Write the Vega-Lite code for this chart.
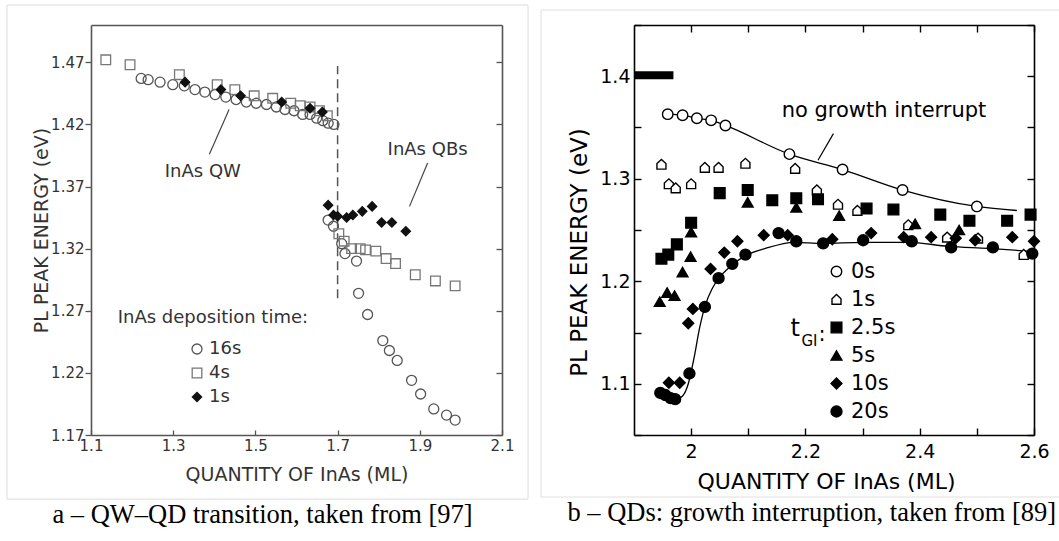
{
  "$schema": "https://vega.github.io/schema/vega-lite/v6.json",
  "background": "white",
  "padding": {"left": 6, "top": 4, "right": 0, "bottom": 0},
  "spacing": 11,
  "resolve": {
    "scale": {"x": "independent", "y": "independent", "shape": "independent", "fill": "independent", "stroke": "independent", "size": "independent"},
    "legend": {"shape": "independent", "fill": "independent", "stroke": "independent", "size": "independent"}
  },
  "config": {
    "view": {"stroke": null},
    "font": "DejaVu Sans",
    "axis": {"grid": false, "labelFlush": false, "labelOverlap": false, "labelBound": false, "domainColor": "#000", "tickColor": "#000", "labelColor": "#000", "titleColor": "#000", "titleFontWeight": "normal", "labelFont": "DejaVu Sans", "titleFont": "DejaVu Sans"}
  },
  "datasets": {
    "a": [
      {"x": 1.222, "y": 1.457, "s": "16s"}, {"x": 1.239, "y": 1.456, "s": "16s"}, {"x": 1.268, "y": 1.454, "s": "16s"}, {"x": 1.299, "y": 1.452, "s": "16s"}, {"x": 1.327, "y": 1.451, "s": "16s"}, {"x": 1.353, "y": 1.448, "s": "16s"}, {"x": 1.377, "y": 1.446, "s": "16s"}, {"x": 1.402, "y": 1.444, "s": "16s"}, {"x": 1.428, "y": 1.442, "s": "16s"}, {"x": 1.453, "y": 1.44, "s": "16s"}, {"x": 1.478, "y": 1.438, "s": "16s"}, {"x": 1.502, "y": 1.437, "s": "16s"}, {"x": 1.527, "y": 1.436, "s": "16s"}, {"x": 1.551, "y": 1.434, "s": "16s"}, {"x": 1.572, "y": 1.432, "s": "16s"}, {"x": 1.594, "y": 1.431, "s": "16s"}, {"x": 1.615, "y": 1.428, "s": "16s"}, {"x": 1.633, "y": 1.428, "s": "16s"}, {"x": 1.649, "y": 1.425, "s": "16s"}, {"x": 1.664, "y": 1.423, "s": "16s"}, {"x": 1.677, "y": 1.421, "s": "16s"}, {"x": 1.691, "y": 1.42, "s": "16s"},
      {"x": 1.677, "y": 1.343, "s": "16s"}, {"x": 1.69, "y": 1.338, "s": "16s"}, {"x": 1.71, "y": 1.324, "s": "16s"}, {"x": 1.718, "y": 1.316, "s": "16s"}, {"x": 1.746, "y": 1.31, "s": "16s"}, {"x": 1.751, "y": 1.284, "s": "16s"}, {"x": 1.773, "y": 1.267, "s": "16s"}, {"x": 1.81, "y": 1.246, "s": "16s"}, {"x": 1.826, "y": 1.238, "s": "16s"}, {"x": 1.845, "y": 1.23, "s": "16s"}, {"x": 1.88, "y": 1.214, "s": "16s"}, {"x": 1.902, "y": 1.203, "s": "16s"}, {"x": 1.934, "y": 1.191, "s": "16s"}, {"x": 1.965, "y": 1.186, "s": "16s"}, {"x": 1.986, "y": 1.182, "s": "16s"},
      {"x": 1.136, "y": 1.472, "s": "4s"}, {"x": 1.195, "y": 1.468, "s": "4s"}, {"x": 1.315, "y": 1.46, "s": "4s"}, {"x": 1.407, "y": 1.452, "s": "4s"}, {"x": 1.45, "y": 1.448, "s": "4s"}, {"x": 1.497, "y": 1.443, "s": "4s"}, {"x": 1.542, "y": 1.441, "s": "4s"}, {"x": 1.586, "y": 1.437, "s": "4s"}, {"x": 1.609, "y": 1.435, "s": "4s"}, {"x": 1.633, "y": 1.434, "s": "4s"}, {"x": 1.656, "y": 1.431, "s": "4s"}, {"x": 1.675, "y": 1.427, "s": "4s"},
      {"x": 1.703, "y": 1.332, "s": "4s"}, {"x": 1.716, "y": 1.326, "s": "4s"}, {"x": 1.734, "y": 1.32, "s": "4s"}, {"x": 1.755, "y": 1.32, "s": "4s"}, {"x": 1.768, "y": 1.319, "s": "4s"}, {"x": 1.793, "y": 1.318, "s": "4s"}, {"x": 1.818, "y": 1.312, "s": "4s"}, {"x": 1.841, "y": 1.308, "s": "4s"}, {"x": 1.889, "y": 1.299, "s": "4s"}, {"x": 1.938, "y": 1.294, "s": "4s"}, {"x": 1.986, "y": 1.29, "s": "4s"},
      {"x": 1.329, "y": 1.454, "s": "1s"}, {"x": 1.416, "y": 1.448, "s": "1s"}, {"x": 1.464, "y": 1.443, "s": "1s"}, {"x": 1.564, "y": 1.438, "s": "1s"}, {"x": 1.633, "y": 1.433, "s": "1s"}, {"x": 1.663, "y": 1.43, "s": "1s"},
      {"x": 1.677, "y": 1.355, "s": "1s"}, {"x": 1.69, "y": 1.347, "s": "1s"}, {"x": 1.7, "y": 1.346, "s": "1s"}, {"x": 1.722, "y": 1.345, "s": "1s"}, {"x": 1.737, "y": 1.347, "s": "1s"}, {"x": 1.76, "y": 1.35, "s": "1s"}, {"x": 1.784, "y": 1.354, "s": "1s"}, {"x": 1.807, "y": 1.341, "s": "1s"}, {"x": 1.832, "y": 1.341, "s": "1s"}, {"x": 1.866, "y": 1.334, "s": "1s"}
    ],
    "b": [
      {"x": 1.959, "y": 1.363, "s": "0s"}, {"x": 1.985, "y": 1.362, "s": "0s"}, {"x": 2.01, "y": 1.359, "s": "0s"}, {"x": 2.035, "y": 1.357, "s": "0s"}, {"x": 2.06, "y": 1.352, "s": "0s"}, {"x": 2.172, "y": 1.324, "s": "0s"}, {"x": 2.265, "y": 1.309, "s": "0s"}, {"x": 2.37, "y": 1.289, "s": "0s"}, {"x": 2.5, "y": 1.273, "s": "0s"},
      {"x": 1.948, "y": 1.314, "s": "1s"}, {"x": 1.961, "y": 1.295, "s": "1s"}, {"x": 1.973, "y": 1.291, "s": "1s"}, {"x": 2.0, "y": 1.295, "s": "1s"}, {"x": 2.024, "y": 1.311, "s": "1s"}, {"x": 2.048, "y": 1.311, "s": "1s"}, {"x": 2.095, "y": 1.315, "s": "1s"}, {"x": 2.182, "y": 1.31, "s": "1s"}, {"x": 2.22, "y": 1.289, "s": "1s"}, {"x": 2.257, "y": 1.275, "s": "1s"}, {"x": 2.291, "y": 1.269, "s": "1s"}, {"x": 2.38, "y": 1.255, "s": "1s"}, {"x": 2.448, "y": 1.243, "s": "1s"}, {"x": 2.502, "y": 1.242, "s": "1s"}, {"x": 2.582, "y": 1.226, "s": "1s"},
      {"x": 1.948, "y": 1.222, "s": "2.5s"}, {"x": 1.96, "y": 1.226, "s": "2.5s"}, {"x": 1.975, "y": 1.236, "s": "2.5s"}, {"x": 2.0, "y": 1.257, "s": "2.5s"}, {"x": 2.05, "y": 1.286, "s": "2.5s"}, {"x": 2.099, "y": 1.289, "s": "2.5s"}, {"x": 2.142, "y": 1.279, "s": "2.5s"}, {"x": 2.184, "y": 1.281, "s": "2.5s"}, {"x": 2.222, "y": 1.28, "s": "2.5s"}, {"x": 2.307, "y": 1.271, "s": "2.5s"}, {"x": 2.354, "y": 1.27, "s": "2.5s"}, {"x": 2.436, "y": 1.265, "s": "2.5s"}, {"x": 2.487, "y": 1.259, "s": "2.5s"}, {"x": 2.553, "y": 1.259, "s": "2.5s"}, {"x": 2.594, "y": 1.265, "s": "2.5s"},
      {"x": 1.945, "y": 1.18, "s": "5s"}, {"x": 1.958, "y": 1.189, "s": "5s"}, {"x": 1.971, "y": 1.186, "s": "5s"}, {"x": 1.985, "y": 1.209, "s": "5s"}, {"x": 1.999, "y": 1.224, "s": "5s"}, {"x": 2.0, "y": 1.248, "s": "5s"}, {"x": 2.099, "y": 1.277, "s": "5s"}, {"x": 2.184, "y": 1.272, "s": "5s"}, {"x": 2.259, "y": 1.264, "s": "5s"}, {"x": 2.392, "y": 1.256, "s": "5s"}, {"x": 2.469, "y": 1.25, "s": "5s"},
      {"x": 1.961, "y": 1.101, "s": "10s"}, {"x": 1.98, "y": 1.101, "s": "10s"}, {"x": 1.995, "y": 1.159, "s": "10s"}, {"x": 2.003, "y": 1.173, "s": "10s"}, {"x": 2.034, "y": 1.212, "s": "10s"}, {"x": 2.058, "y": 1.228, "s": "10s"}, {"x": 2.081, "y": 1.239, "s": "10s"}, {"x": 2.127, "y": 1.245, "s": "10s"}, {"x": 2.169, "y": 1.245, "s": "10s"}, {"x": 2.247, "y": 1.241, "s": "10s"}, {"x": 2.315, "y": 1.247, "s": "10s"}, {"x": 2.372, "y": 1.243, "s": "10s"}, {"x": 2.42, "y": 1.243, "s": "10s"}, {"x": 2.463, "y": 1.242, "s": "10s"}, {"x": 2.497, "y": 1.24, "s": "10s"}, {"x": 2.562, "y": 1.243, "s": "10s"}, {"x": 2.6, "y": 1.239, "s": "10s"},
      {"x": 1.946, "y": 1.091, "s": "20s"}, {"x": 1.955, "y": 1.089, "s": "20s"}, {"x": 1.964, "y": 1.086, "s": "20s"}, {"x": 1.972, "y": 1.085, "s": "20s"}, {"x": 1.997, "y": 1.11, "s": "20s"}, {"x": 2.024, "y": 1.175, "s": "20s"}, {"x": 2.048, "y": 1.203, "s": "20s"}, {"x": 2.072, "y": 1.217, "s": "20s"}, {"x": 2.095, "y": 1.226, "s": "20s"}, {"x": 2.153, "y": 1.247, "s": "20s"}, {"x": 2.184, "y": 1.239, "s": "20s"}, {"x": 2.231, "y": 1.237, "s": "20s"}, {"x": 2.301, "y": 1.24, "s": "20s"}, {"x": 2.386, "y": 1.239, "s": "20s"}, {"x": 2.455, "y": 1.233, "s": "20s"}, {"x": 2.528, "y": 1.233, "s": "20s"}, {"x": 2.597, "y": 1.227, "s": "20s"}
    ],
    "bfit": [
      {"x": 1.959, "y": 1.363, "c": "0s"}, {"x": 1.985, "y": 1.362, "c": "0s"}, {"x": 2.01, "y": 1.359, "c": "0s"}, {"x": 2.035, "y": 1.357, "c": "0s"}, {"x": 2.06, "y": 1.352, "c": "0s"}, {"x": 2.172, "y": 1.324, "c": "0s"}, {"x": 2.265, "y": 1.309, "c": "0s"}, {"x": 2.37, "y": 1.289, "c": "0s"}, {"x": 2.5, "y": 1.273, "c": "0s"}, {"x": 2.57, "y": 1.269, "c": "0s"},
      {"x": 1.972, "y": 1.084, "c": "20s"}, {"x": 1.985, "y": 1.088, "c": "20s"}, {"x": 1.995, "y": 1.1, "c": "20s"}, {"x": 2.005, "y": 1.125, "c": "20s"}, {"x": 2.015, "y": 1.155, "c": "20s"}, {"x": 2.025, "y": 1.177, "c": "20s"}, {"x": 2.037, "y": 1.193, "c": "20s"}, {"x": 2.05, "y": 1.204, "c": "20s"}, {"x": 2.07, "y": 1.215, "c": "20s"}, {"x": 2.095, "y": 1.225, "c": "20s"}, {"x": 2.13, "y": 1.232, "c": "20s"}, {"x": 2.18, "y": 1.238, "c": "20s"}, {"x": 2.23, "y": 1.237, "c": "20s"}, {"x": 2.3, "y": 1.238, "c": "20s"}, {"x": 2.38, "y": 1.238, "c": "20s"}, {"x": 2.45, "y": 1.234, "c": "20s"}, {"x": 2.52, "y": 1.232, "c": "20s"}, {"x": 2.6, "y": 1.229, "c": "20s"}
    ]
  },
  "hconcat": [
    {
      "width": 411,
      "height": 410,
      "title": {"text": "a – QW–QD transition, taken from [97]", "orient": "bottom", "anchor": "middle", "frame": "bounds", "dx": -5, "offset": 2, "font": "Liberation Serif", "fontSize": 26.5, "fontWeight": "normal", "color": "#000"},
      "resolve": {"axis": {"x": "independent", "y": "independent"}},
      "layer": [
        {
          "data": {"values": [{}]},
          "mark": {"type": "rect", "fill": null, "stroke": "#dcdcdc", "strokeWidth": 1},
          "encoding": {
            "x": {"datum": 0.8956, "type": "quantitative", "scale": {"domain": [1.1, 2.1], "nice": false, "zero": false}, "axis": null},
            "x2": {"datum": 2.1633},
            "y": {"datum": 1.5161, "type": "quantitative", "scale": {"domain": [1.17, 1.5], "nice": false, "zero": false}, "axis": null},
            "y2": {"datum": 1.1184}
          }
        },
        {
          "data": {"values": [{}]},
          "mark": {"type": "rule", "strokeDash": [9, 5], "stroke": "#555", "strokeWidth": 1.5},
          "encoding": {
            "x": {"datum": 1.7, "type": "quantitative", "axis": {"orient": "top", "ticks": false, "labels": false, "title": null, "domainColor": "#555", "domainWidth": 1.6}},
            "y": {"datum": 1.28, "type": "quantitative", "axis": {"orient": "right", "values": [1.17, 1.22, 1.27, 1.32, 1.37, 1.42, 1.47], "tickSize": -6, "labels": false, "title": null, "domainColor": "#555", "domainWidth": 1.6, "tickColor": "#555", "tickWidth": 1.3}},
            "y2": {"datum": 1.467}
          }
        },
        {
          "data": {"values": [{}]},
          "mark": {"type": "rule", "stroke": "#444", "strokeWidth": 1.2},
          "encoding": {
            "x": {"datum": 1.436, "type": "quantitative", "axis": null},
            "y": {"datum": 1.432, "type": "quantitative", "axis": null},
            "x2": {"datum": 1.388},
            "y2": {"datum": 1.396}
          }
        },
        {
          "data": {"values": [{}]},
          "mark": {"type": "rule", "stroke": "#444", "strokeWidth": 1.2},
          "encoding": {
            "x": {"datum": 1.919, "type": "quantitative", "axis": null},
            "y": {"datum": 1.389, "type": "quantitative", "axis": null},
            "x2": {"datum": 1.875},
            "y2": {"datum": 1.354}
          }
        },
        {
          "data": {"values": [{}]},
          "mark": {"type": "text", "text": "InAs QW", "font": "DejaVu Sans", "fontSize": 18, "color": "#333", "align": "center", "baseline": "middle"},
          "encoding": {
            "x": {"datum": 1.372, "type": "quantitative", "axis": null},
            "y": {"datum": 1.382, "type": "quantitative", "axis": null}
          }
        },
        {
          "data": {"values": [{}]},
          "mark": {"type": "text", "text": "InAs QBs", "font": "DejaVu Sans", "fontSize": 18, "color": "#333", "align": "center", "baseline": "middle"},
          "encoding": {
            "x": {"datum": 1.919, "type": "quantitative", "axis": null},
            "y": {"datum": 1.399, "type": "quantitative", "axis": null}
          }
        },
        {
          "data": {"values": [{}]},
          "mark": {"type": "text", "text": "InAs deposition time:", "font": "DejaVu Sans", "fontSize": 18, "color": "#333", "align": "left", "baseline": "middle"},
          "encoding": {
            "x": {"datum": 1.165, "type": "quantitative", "axis": null},
            "y": {"datum": 1.264, "type": "quantitative", "axis": null}
          }
        },
        {
          "data": {"name": "a"},
          "mark": {"type": "point", "opacity": 1, "strokeWidth": 1.3},
          "encoding": {
            "x": {"field": "x", "type": "quantitative", "scale": {"domain": [1.1, 2.1], "nice": false, "zero": false},
              "axis": {"orient": "bottom", "values": [1.1, 1.3, 1.5, 1.7, 1.9, 2.1], "format": ".1f", "tickSize": -5, "labelPadding": 8, "labelFontSize": 15, "title": "QUANTITY OF InAs (ML)", "titleFontSize": 19, "titlePadding": 12, "domainColor": "#555", "domainWidth": 1.6, "tickColor": "#555", "tickWidth": 1.3, "labelColor": "#333", "titleColor": "#333"}},
            "y": {"field": "y", "type": "quantitative", "scale": {"domain": [1.17, 1.5], "nice": false, "zero": false},
              "axis": {"orient": "left", "values": [1.17, 1.22, 1.27, 1.32, 1.37, 1.42, 1.47], "format": ".2f", "tickSize": 6, "labelPadding": 1, "labelFontSize": 15, "title": "PL PEAK ENERGY (eV)", "titleFontSize": 19, "titlePadding": -1, "domainColor": "#555", "domainWidth": 1.6, "tickColor": "#555", "tickWidth": 1.3, "labelColor": "#333", "titleColor": "#333"}},
            "shape": {"field": "s", "type": "nominal", "scale": {"domain": ["16s", "4s", "1s"], "range": ["circle", "square", "diamond"]},
              "legend": {"orient": "none", "legendX": 97, "legendY": 315, "title": null, "labelFont": "DejaVu Sans", "labelFontSize": 18, "labelColor": "#333", "rowPadding": 6, "labelOffset": 3, "symbolStrokeWidth": 1.3}},
            "stroke": {"field": "s", "type": "nominal", "scale": {"domain": ["16s", "4s", "1s"], "range": ["#555", "#777", "#111"]},
              "legend": {"orient": "none", "legendX": 97, "legendY": 315, "title": null, "labelFont": "DejaVu Sans", "labelFontSize": 18, "labelColor": "#333", "rowPadding": 6, "labelOffset": 3, "symbolStrokeWidth": 1.3}},
            "fill": {"field": "s", "type": "nominal", "scale": {"domain": ["16s", "4s", "1s"], "range": ["transparent", "transparent", "#111"]},
              "legend": {"orient": "none", "legendX": 97, "legendY": 315, "title": null, "labelFont": "DejaVu Sans", "labelFontSize": 18, "labelColor": "#333", "rowPadding": 6, "labelOffset": 3, "symbolStrokeWidth": 1.3}},
            "size": {"field": "s", "type": "nominal", "scale": {"domain": ["16s", "4s", "1s"], "range": [100, 85, 70]},
              "legend": {"orient": "none", "legendX": 97, "legendY": 315, "title": null, "labelFont": "DejaVu Sans", "labelFontSize": 18, "labelColor": "#333", "rowPadding": 6, "labelOffset": 3, "symbolStrokeWidth": 1.3}}
          }
        }
      ]
    },
    {
      "width": 400,
      "height": 410,
      "title": {"text": "b – QDs: growth interruption, taken from [89]", "orient": "bottom", "anchor": "start", "frame": "bounds", "dx": 27, "offset": 2, "font": "Liberation Serif", "fontSize": 26.5, "fontWeight": "normal", "color": "#000"},
      "resolve": {"axis": {"x": "independent", "y": "independent"}},
      "layer": [
        {
          "data": {"values": [{}]},
          "mark": {"type": "rule", "stroke": "#e0e0e0", "strokeWidth": 1},
          "encoding": {
            "x": {"datum": 1.7372, "type": "quantitative", "scale": {"domain": [1.9, 2.6], "nice": false, "zero": false}, "axis": null},
            "y": {"datum": 0.9895, "type": "quantitative", "scale": {"domain": [1.05, 1.45], "nice": false, "zero": false}, "axis": null},
            "y2": {"datum": 1.4646}
          }
        },
        {
          "data": {"values": [{}]},
          "mark": {"type": "rule", "stroke": "#e0e0e0", "strokeWidth": 1},
          "encoding": {
            "x": {"datum": 1.7372, "type": "quantitative", "axis": null},
            "x2": {"datum": 2.6455},
            "y": {"datum": 1.4646, "type": "quantitative", "axis": null}
          }
        },
        {
          "data": {"values": [{}]},
          "mark": {"type": "rule", "stroke": "#e0e0e0", "strokeWidth": 1},
          "encoding": {
            "x": {"datum": 1.7372, "type": "quantitative", "axis": null},
            "x2": {"datum": 2.6455},
            "y": {"datum": 0.9895, "type": "quantitative", "axis": null}
          }
        },
        {
          "data": {"values": [{}]},
          "mark": {"type": "rule", "stroke": "#000", "strokeWidth": 8, "strokeCap": "butt"},
          "encoding": {
            "x": {"datum": 1.9, "type": "quantitative", "axis": null},
            "x2": {"datum": 1.969},
            "y": {"datum": 1.401, "type": "quantitative", "axis": null}
          }
        },
        {
          "data": {"values": [{}]},
          "mark": {"type": "rule", "stroke": "#000", "strokeWidth": 1.2},
          "encoding": {
            "x": {"datum": 2.249, "type": "quantitative", "axis": null},
            "y": {"datum": 1.344, "type": "quantitative", "axis": null},
            "x2": {"datum": 2.222},
            "y2": {"datum": 1.318}
          }
        },
        {
          "data": {"name": "bfit"},
          "mark": {"type": "line", "stroke": "#000", "strokeWidth": 1.3, "interpolate": "monotone"},
          "encoding": {
            "x": {"field": "x", "type": "quantitative", "axis": {"orient": "top", "values": [2, 2.1, 2.2, 2.3, 2.4, 2.5, 2.6], "tickSize": -7, "tickWidth": 1.4, "domainWidth": 1.6, "labels": false, "title": null}},
            "y": {"field": "y", "type": "quantitative", "axis": {"orient": "right", "values": [1.05, 1.1, 1.15, 1.2, 1.25, 1.3, 1.35, 1.4, 1.45], "tickSize": -7, "tickWidth": 1.4, "domainWidth": 1.6, "labels": false, "title": null}},
            "detail": {"field": "c", "type": "nominal"}
          }
        },
        {
          "data": {"name": "b"},
          "mark": {"type": "point", "opacity": 1, "strokeWidth": 1.4},
          "encoding": {
            "x": {"field": "x", "type": "quantitative", "scale": {"domain": [1.9, 2.6], "nice": false, "zero": false},
              "axis": {"orient": "bottom", "values": [2, 2.1, 2.2, 2.3, 2.4, 2.5, 2.6], "format": "~g", "labelExpr": "round(datum.value*10)%2==0 ? datum.label : ''", "tickSize": -7, "tickWidth": 1.4, "domainWidth": 1.6, "labelPadding": 14, "labelFontSize": 19, "title": "QUANTITY OF InAs (ML)", "titleFontSize": 22, "titlePadding": 10, "titleX": 192}},
            "y": {"field": "y", "type": "quantitative", "scale": {"domain": [1.05, 1.45], "nice": false, "zero": false},
              "axis": {"orient": "left", "values": [1.05, 1.1, 1.15, 1.2, 1.25, 1.3, 1.35, 1.4, 1.45], "format": ".1f", "labelExpr": "round(datum.value*100)%10==0 ? datum.label : ''", "tickSize": -7, "tickWidth": 1.4, "domainWidth": 1.6, "labelPadding": 11, "labelFontSize": 19, "title": "PL PEAK ENERGY (eV)", "titleFontSize": 23, "titlePadding": 8, "titleY": 227}},
            "shape": {"field": "s", "type": "nominal", "scale": {"domain": ["0s", "1s", "2.5s", "5s", "10s", "20s"], "range": ["circle", "M-0.85,0.9L0.85,0.9L0.85,-0.15L0,-0.95L-0.85,-0.15Z", "square", "triangle-up", "diamond", "circle"]},
              "legend": {"orient": "none", "legendX": 192, "legendY": 236, "title": null, "labelFont": "DejaVu Sans", "labelFontSize": 21, "labelColor": "#000", "rowPadding": 6, "labelOffset": 4, "symbolStrokeWidth": 1.4}},
            "fill": {"field": "s", "type": "nominal", "scale": {"domain": ["0s", "1s", "2.5s", "5s", "10s", "20s"], "range": ["white", "white", "black", "black", "black", "black"]},
              "legend": {"orient": "none", "legendX": 192, "legendY": 236, "title": null, "labelFont": "DejaVu Sans", "labelFontSize": 21, "labelColor": "#000", "rowPadding": 6, "labelOffset": 4, "symbolStrokeWidth": 1.4}},
            "stroke": {"field": "s", "type": "nominal", "scale": {"domain": ["0s", "1s", "2.5s", "5s", "10s", "20s"], "range": ["black", "black", "black", "black", "black", "black"]},
              "legend": {"orient": "none", "legendX": 192, "legendY": 236, "title": null, "labelFont": "DejaVu Sans", "labelFontSize": 21, "labelColor": "#000", "rowPadding": 6, "labelOffset": 4, "symbolStrokeWidth": 1.4}},
            "size": {"field": "s", "type": "nominal", "scale": {"domain": ["0s", "1s", "2.5s", "5s", "10s", "20s"], "range": [110, 120, 85, 95, 75, 140]},
              "legend": {"orient": "none", "legendX": 192, "legendY": 236, "title": null, "labelFont": "DejaVu Sans", "labelFontSize": 21, "labelColor": "#000", "rowPadding": 6, "labelOffset": 4, "symbolStrokeWidth": 1.4}}
          }
        },
        {
          "data": {"values": [{}]},
          "mark": {"type": "text", "text": "no growth interrupt", "font": "DejaVu Sans", "fontSize": 21, "color": "#000", "align": "center", "baseline": "middle"},
          "encoding": {
            "x": {"datum": 2.3375, "type": "quantitative", "axis": null},
            "y": {"datum": 1.366, "type": "quantitative", "axis": null}
          }
        },
        {
          "data": {"values": [{}]},
          "mark": {"type": "text", "text": "t", "font": "DejaVu Sans", "fontSize": 24, "color": "#000", "align": "center", "baseline": "middle"},
          "encoding": {
            "x": {"datum": 2.182, "type": "quantitative", "axis": null},
            "y": {"datum": 1.153, "type": "quantitative", "axis": null}
          }
        },
        {
          "data": {"values": [{}]},
          "mark": {"type": "text", "text": "GI", "font": "DejaVu Sans", "fontSize": 15, "color": "#000", "align": "center", "baseline": "middle"},
          "encoding": {
            "x": {"datum": 2.207, "type": "quantitative", "axis": null},
            "y": {"datum": 1.142, "type": "quantitative", "axis": null}
          }
        },
        {
          "data": {"values": [{}]},
          "mark": {"type": "text", "text": ":", "font": "DejaVu Sans", "fontSize": 21, "color": "#000", "align": "center", "baseline": "middle"},
          "encoding": {
            "x": {"datum": 2.229, "type": "quantitative", "axis": null},
            "y": {"datum": 1.148, "type": "quantitative", "axis": null}
          }
        }
      ]
    }
  ]
}
